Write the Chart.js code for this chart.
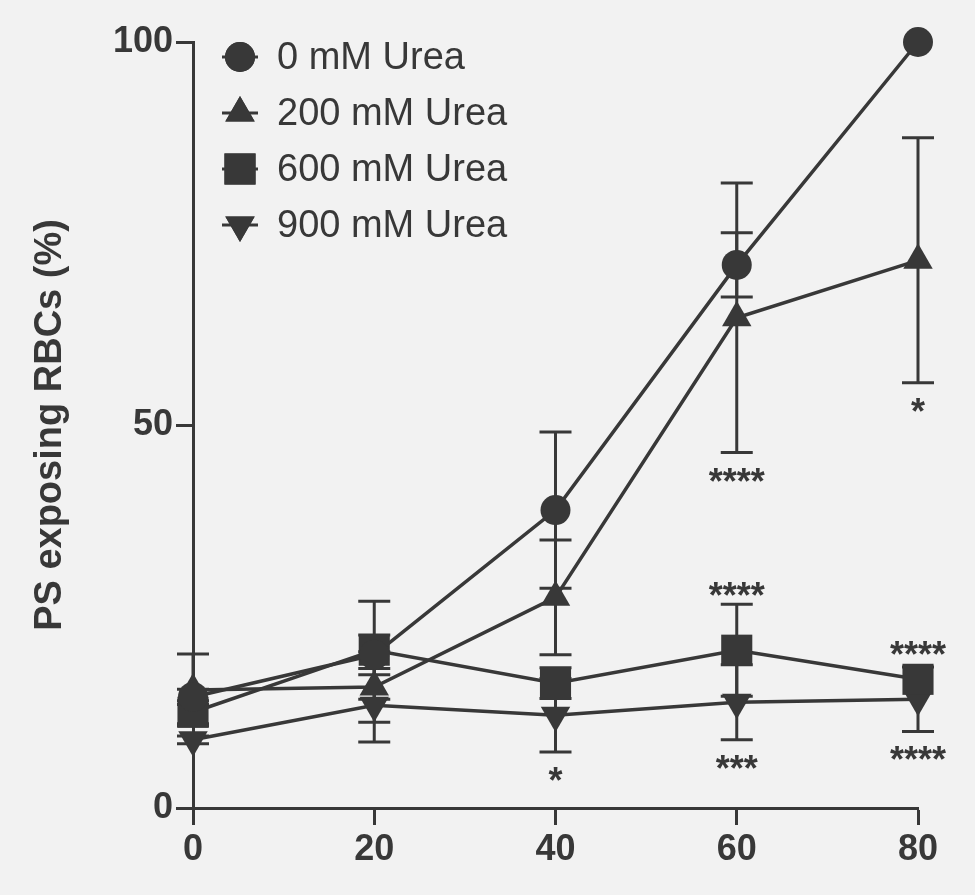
<!DOCTYPE html>
<html>
<head>
<meta charset="utf-8">
<script src="https://cdn.jsdelivr.net/npm/chart.js@4/dist/chart.umd.min.js"></script>
<style>
  html, body { margin: 0; padding: 0; background: #f2f2f2; }
  #wrap { width: 975px; height: 895px; }
</style>
</head>
<body>
<div id="wrap"><canvas id="ureaChart" width="975" height="895"></canvas></div>
<script>
// time points (x axis)
const timePoints = [0, 20, 40, 60, 80];
const xTicks = [0, 20, 40, 60, 80];
const yTicks = [0, 50, 100];

const seriesLabels = ["0 mM Urea", "200 mM Urea", "600 mM Urea", "900 mM Urea"];

// mean values
const urea0 = [14.5, 20.0, 38.9, 70.9, 100];
const urea200 = [15.4, 15.8, 27.5, 64.0, 71.5];
const urea600 = [12.5, 20.6, 16.3, 20.6, 16.8];
const urea900 = [8.9, 13.4, 12.1, 13.8, 14.2];

// error bars (+/-)
const err0 = [1.0, 2.6, 10.2, 4.2, 0];
const err200 = [4.7, 4.6, 7.5, 17.6, 16.0];
const err600 = [1.5, 6.4, 2.0, 6.0, 0];
const err900 = [0.5, 4.8, 4.8, 4.9, 4.2];

// significance marks
const stars200 = ["", "", "", "****", "*"];   // below
const stars600 = ["", "", "", "****", "****"]; // above
const stars900 = ["", "", "*", "***", "****"]; // below

const ink = "#383838";

const allErrors = [err0, err200, err600, err900];
const starSets = [
  { series: 1, marks: stars200, side: "below" },
  { series: 2, marks: stars600, side: "above" },
  { series: 3, marks: stars900, side: "below" },
];

function toPoints(values) {
  return values.map((v, i) => ({ x: timePoints[i], y: v }));
}

// error bars drawn behind the markers
const errorBarPlugin = {
  id: "errorBars",
  beforeDatasetsDraw(chart) {
    const { ctx, scales } = chart;
    ctx.save();
    ctx.strokeStyle = ink;
    ctx.lineWidth = 3;
    allErrors.forEach((errs, d) => {
      const values = chart.data.datasets[d].data;
      values.forEach((p, i) => {
        if (!errs[i]) return;
        const x = scales.x.getPixelForValue(p.x);
        const yTop = scales.y.getPixelForValue(p.y + errs[i]);
        const yBot = scales.y.getPixelForValue(p.y - errs[i]);
        ctx.beginPath();
        ctx.moveTo(x, yTop);
        ctx.lineTo(x, yBot);
        ctx.moveTo(x - 16, yTop);
        ctx.lineTo(x + 16, yTop);
        ctx.moveTo(x - 16, yBot);
        ctx.lineTo(x + 16, yBot);
        ctx.stroke();
      });
    });
    ctx.restore();
  },
};

// asterisks above / below the error bars
const starsPlugin = {
  id: "stars",
  afterDatasetsDraw(chart) {
    const { ctx, scales } = chart;
    ctx.save();
    ctx.fillStyle = ink;
    ctx.font = "bold 36px 'Liberation Sans', Arial, sans-serif";
    ctx.textAlign = "center";
    ctx.textBaseline = "alphabetic";
    starSets.forEach((set) => {
      const ds = chart.data.datasets[set.series];
      const errs = allErrors[set.series];
      set.marks.forEach((mark, i) => {
        if (!mark) return;
        const p = ds.data[i];
        const x = scales.x.getPixelForValue(p.x);
        const center = scales.y.getPixelForValue(p.y);
        let starCenter;
        if (set.side === "above") {
          const cap = scales.y.getPixelForValue(p.y + errs[i]);
          starCenter = Math.min(cap, center - 16) - 17;
        } else {
          const cap = scales.y.getPixelForValue(p.y - errs[i]);
          starCenter = Math.max(cap, center + 16) + 20;
        }
        ctx.fillText(mark, x, starCenter + 21);
      });
    });
    ctx.restore();
  },
};

// legend inside the plot, top left
const legendPlugin = {
  id: "insideLegend",
  afterDraw(chart) {
    const { ctx, chartArea } = chart;
    ctx.save();
    chart.data.datasets.forEach((ds, i) => {
      const cx = chartArea.left + 47;
      const cy = chartArea.top + 15 + i * 56;
      ctx.strokeStyle = ink;
      ctx.lineWidth = 3;
      ctx.beginPath();
      ctx.moveTo(cx - 18, cy);
      ctx.lineTo(cx + 18, cy);
      ctx.stroke();
      ctx.fillStyle = ink;
      Chart.helpers.drawPoint(ctx, {
        pointStyle: ds.pointStyle,
        radius: ds.pointRadius,
        rotation: ds.pointRotation || 0,
        borderWidth: 0,
      }, cx, cy);
      ctx.fill();
      ctx.fillStyle = ink;
      ctx.font = "38px 'Liberation Sans', Arial, sans-serif";
      ctx.textAlign = "left";
      ctx.textBaseline = "middle";
      ctx.fillText(ds.label, cx + 37, cy + 2);
    });
    ctx.restore();
  },
};

function makeDataset(label, values, style, radius, rotation) {
  return {
    label: label,
    data: toPoints(values),
    borderColor: ink,
    backgroundColor: ink,
    borderWidth: 3.5,
    pointStyle: style,
    pointRadius: radius,
    pointRotation: rotation,
    pointBorderWidth: 0,
    pointBackgroundColor: ink,
    pointHoverRadius: radius,
    tension: 0,
    clip: false,
  };
}

const ctx = document.getElementById("ureaChart").getContext("2d");
new Chart(ctx, {
  type: "line",
  data: {
    datasets: [
      makeDataset(seriesLabels[0], urea0, "circle", 15, 0),
      makeDataset(seriesLabels[1], urea200, "triangle", 17, 0),
      makeDataset(seriesLabels[2], urea600, "rect", 22, 0),
      makeDataset(seriesLabels[3], urea900, "triangle", 17, 180),
    ],
  },
  options: {
    responsive: false,
    animation: false,
    devicePixelRatio: 1,
    layout: { padding: { top: 42, right: 57, bottom: 0, left: 0 } },
    plugins: {
      legend: { display: false },
      tooltip: { enabled: false },
    },
    scales: {
      x: {
        type: "linear",
        min: 0,
        max: 80,
        afterBuildTicks: (scale) => {
          scale.ticks = xTicks.map((v) => ({ value: v }));
        },
        afterFit: (scale) => {
          scale.height = 87;
        },
        ticks: {
          color: ink,
          padding: 3,
          font: { family: "'Liberation Sans', Arial, sans-serif", size: 36, weight: "bold" },
        },
        grid: {
          drawOnChartArea: false,
          drawTicks: true,
          tickLength: 17,
          tickWidth: 3,
          tickColor: ink,
        },
        border: { display: true, width: 3, color: ink },
      },
      y: {
        type: "linear",
        min: 0,
        max: 100,
        afterBuildTicks: (scale) => {
          scale.ticks = yTicks.map((v) => ({ value: v }));
        },
        afterFit: (scale) => {
          scale.width = 193;
        },
        ticks: {
          color: ink,
          padding: 3,
          font: { family: "'Liberation Sans', Arial, sans-serif", size: 36, weight: "bold" },
        },
        grid: {
          drawOnChartArea: false,
          drawTicks: true,
          tickLength: 17,
          tickWidth: 3,
          tickColor: ink,
        },
        border: { display: true, width: 3, color: ink },
        title: {
          display: true,
          text: "PS exposing RBCs (%)",
          color: ink,
          padding: { top: 28, bottom: 0 },
          font: { family: "'Liberation Sans', Arial, sans-serif", size: 38, weight: "bold" },
        },
      },
    },
  },
  plugins: [errorBarPlugin, starsPlugin, legendPlugin],
});
</script>
</body>
</html>
